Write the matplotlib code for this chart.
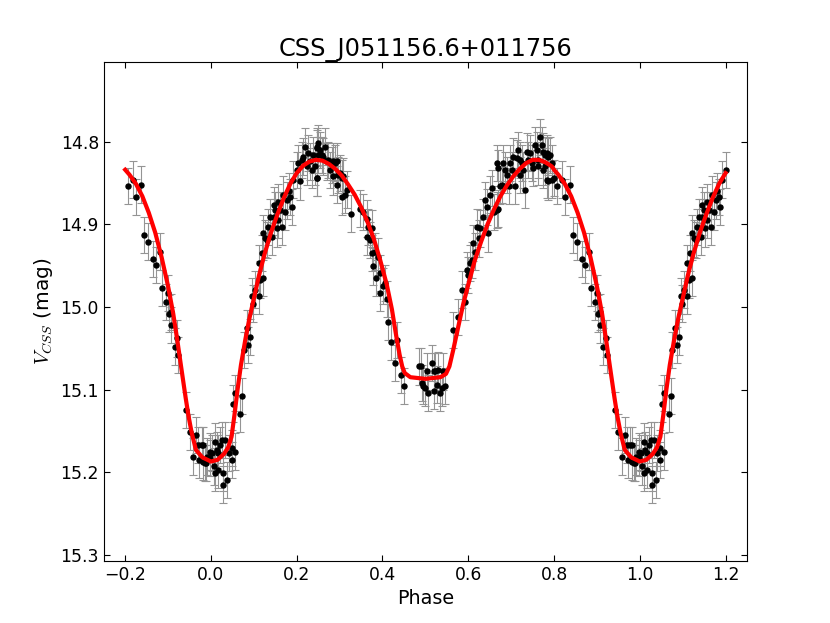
import numpy as np
import matplotlib
matplotlib.use('Agg')
import matplotlib.pyplot as plt

# Points de la courbe de lumiere, phase 0..1
phase = [
    0.002, 0.006, 0.009, 0.009, 0.013, 0.017, 0.017, 0.021, 0.025, 0.029,
    0.029, 0.033, 0.037, 0.041, 0.048, 0.048, 0.056, 0.052, 0.056, 0.068,
    0.072, 0.076, 0.083, 0.087, 0.091, 0.095, 0.099, 0.103, 0.111, 0.111,
    0.114, 0.118, 0.122, 0.122, 0.126, 0.130, 0.134, 0.138, 0.142, 0.146,
    0.146, 0.149, 0.153, 0.157, 0.157, 0.161, 0.165, 0.169, 0.173, 0.177,
    0.181, 0.188, 0.184, 0.192, 0.200, 0.208, 0.204, 0.212, 0.215, 0.219,
    0.223, 0.227, 0.231, 0.235, 0.239, 0.243, 0.247, 0.247, 0.250,
    0.247, 0.247, 0.250, 0.254, 0.258, 0.262, 0.266, 0.270, 0.274, 0.278,
    0.282, 0.285, 0.285, 0.289, 0.293, 0.293, 0.297, 0.301, 0.305, 0.305,
    0.309, 0.313, 0.317, 0.327, 0.348, 0.355, 0.363, 0.367, 0.375, 0.363,
    0.371, 0.375, 0.383, 0.390, 0.379, 0.386, 0.394, 0.406, 0.394, 0.402,
    0.410, 0.414, 0.421, 0.433, 0.429, 0.443, 0.449, 0.484, 0.490, 0.491,
    0.495, 0.499, 0.503, 0.507, 0.515, 0.519, 0.519,
    0.523, 0.526, 0.530, 0.534, 0.538, 0.542, 0.546, 0.565, 0.577, 0.585,
    0.592, 0.596, 0.600, 0.604, 0.608, 0.612, 0.616, 0.620, 0.624, 0.627,
    0.635, 0.639, 0.643, 0.647, 0.651, 0.655, 0.659, 0.666, 0.670, 0.666,
    0.670, 0.674, 0.678, 0.682, 0.686, 0.690, 0.694, 0.697, 0.701, 0.705,
    0.709, 0.713, 0.717, 0.721, 0.725, 0.721, 0.728, 0.732, 0.736, 0.740,
    0.744, 0.748, 0.752, 0.756, 0.760, 0.763, 0.763,
    0.767, 0.771, 0.775, 0.779, 0.783, 0.787, 0.791, 0.795, 0.775, 0.779,
    0.783, 0.787, 0.795, 0.799, 0.806, 0.818, 0.826, 0.837, 0.844, 0.854,
    0.865, 0.872, 0.882, 0.886, 0.896, 0.900, 0.903, 0.907, 0.907, 0.915,
    0.921, 0.923, 0.942, 0.950, 0.958, 0.966, 0.970, 0.973, 0.981, 0.981,
    0.989, 0.997, 0.978, 0.986, 0.990, 0.998,
]
mag = [
    15.177, 15.193, 15.201, 15.163, 15.173, 15.177, 15.197, 15.167, 15.161, 15.201,
    15.215, 15.161, 15.209, 15.177, 15.185, 15.171, 15.175, 15.117, 15.104, 15.129,
    15.108, 15.052, 15.026, 15.046, 15.036, 14.987, 14.996, 14.979, 14.987, 14.947,
    14.967, 14.935, 14.965, 14.911, 14.917, 14.919, 14.903, 14.891, 14.915, 14.891,
    14.877, 14.883, 14.905, 14.873, 14.895, 14.883, 14.903, 14.864, 14.885, 14.871,
    14.860, 14.879, 14.867, 14.846, 14.834, 14.848, 14.826, 14.822, 14.818, 14.806,
    14.830, 14.814, 14.824, 14.834, 14.816, 14.830, 14.844, 14.806, 14.816,
    14.808, 14.844, 14.802, 14.810, 14.816, 14.818, 14.806, 14.824, 14.822, 14.834,
    14.828, 14.824, 14.842, 14.826, 14.824, 14.852, 14.840, 14.838, 14.844, 14.867,
    14.842, 14.864, 14.858, 14.887, 14.881, 14.885, 14.893, 14.903, 14.905, 14.915,
    14.919, 14.935, 14.933, 14.939, 14.951, 14.965, 14.959, 14.971, 14.983, 14.975,
    14.990, 15.018, 15.042, 15.040, 15.068, 15.082, 15.096, 15.072, 15.072, 15.092,
    15.096, 15.098, 15.078, 15.104, 15.068, 15.102, 15.078,
    15.078, 15.094, 15.076, 15.104, 15.098, 15.078, 15.096, 15.028, 15.012, 14.979,
    14.994, 14.955, 14.961, 14.947, 14.943, 14.923, 14.933, 14.903, 14.917, 14.905,
    14.891, 14.871, 14.879, 14.911, 14.864, 14.856, 14.885, 14.883, 14.881, 14.826,
    14.832, 14.854, 14.852, 14.826, 14.834, 14.840, 14.854, 14.826, 14.834, 14.818,
    14.854, 14.820, 14.810, 14.822, 14.826, 14.840, 14.834, 14.858, 14.812, 14.822,
    14.814, 14.826, 14.832, 14.804, 14.810, 14.822, 14.830,
    14.794, 14.804, 14.812, 14.816, 14.814, 14.818, 14.816, 14.826, 14.834, 14.830,
    14.846, 14.848, 14.846, 14.844, 14.854, 14.846, 14.867, 14.852, 14.913, 14.921,
    14.942, 14.949, 14.933, 14.977, 14.994, 14.983, 15.008, 15.006, 15.022, 15.048,
    15.038, 15.058, 15.125, 15.151, 15.181, 15.155, 15.167, 15.185, 15.167, 15.187,
    15.189, 15.183, 15.167, 15.189, 15.181, 15.175,
]
erreur = 0.022

# Modele ajuste (courbe rouge), phase 0..1
phase_modele = [
    0.000, 0.015, 0.030, 0.040, 0.048, 0.055, 0.062, 0.070, 0.080, 0.090,
    0.100, 0.112, 0.125, 0.140, 0.155, 0.170, 0.185, 0.200, 0.215, 0.230,
    0.245, 0.260, 0.275, 0.290, 0.305, 0.320, 0.335, 0.350, 0.365, 0.380,
    0.395, 0.410, 0.422, 0.432, 0.440, 0.446, 0.452, 0.465, 0.500, 0.535,
    0.548, 0.556, 0.565, 0.575, 0.588, 0.600, 0.615, 0.630, 0.645, 0.660,
    0.675, 0.690, 0.705, 0.720, 0.735, 0.750, 0.765, 0.780, 0.795, 0.800,
    0.810, 0.825, 0.840, 0.855, 0.870, 0.885, 0.900, 0.912, 0.922, 0.932,
    0.941, 0.948, 0.955, 0.965, 0.980, 1.000,
]
mag_modele = [
    15.187, 15.185, 15.178, 15.170, 15.157, 15.130, 15.100, 15.070, 15.040, 15.013,
    14.990, 14.962, 14.936, 14.910, 14.888, 14.868, 14.851, 14.838, 14.829, 14.824,
    14.822, 14.823, 14.827, 14.833, 14.841, 14.852, 14.864, 14.879, 14.897, 14.918,
    14.944, 14.973, 15.003, 15.035, 15.058, 15.072, 15.080, 15.085, 15.087, 15.085,
    15.081, 15.072, 15.052, 15.028, 14.997, 14.973, 14.944, 14.921, 14.900, 14.882,
    14.866, 14.853, 14.842, 14.833, 14.826, 14.822, 14.822, 14.825, 14.830, 14.834,
    14.840, 14.851, 14.866, 14.886, 14.910, 14.940, 14.975, 15.008, 15.042, 15.078,
    15.110, 15.133, 15.152, 15.173, 15.182, 15.187,
]

# On replie en phase pour couvrir -0.2 .. 1.2
p = np.array(phase)
m = np.array(mag)
px = np.concatenate([p[p >= 0.8] - 1, p, p[p <= 0.2] + 1])
my = np.concatenate([m[p >= 0.8], m, m[p <= 0.2]])

pm = np.array(phase_modele)
mm = np.array(mag_modele)
cx = np.concatenate([pm[pm >= 0.8][:-1] - 1, pm, pm[pm <= 0.2][1:] + 1])
cy = np.concatenate([mm[pm >= 0.8][:-1], mm, mm[pm <= 0.2][1:]])

plt.rcParams['mathtext.fontset'] = 'cm'
plt.rcParams['font.size'] = 12.4
plt.rcParams['xtick.direction'] = 'in'
plt.rcParams['ytick.direction'] = 'in'
plt.rcParams['xtick.top'] = True
plt.rcParams['ytick.right'] = True
plt.rcParams['xtick.major.size'] = 4
plt.rcParams['ytick.major.size'] = 4

fig = plt.figure(figsize=(8.3, 6.23), dpi=100)
fig.subplots_adjust(left=0.125, right=0.9, bottom=0.1, top=0.9)
ax = fig.add_subplot(111)

ax.errorbar(px, my, yerr=erreur, fmt='o', color='black', ms=3.6,
            ecolor='0.58', elinewidth=0.8, capsize=3, capthick=0.8, zorder=2)
ax.plot(cx, cy, color='red', lw=3, zorder=3)

ax.set_xlim(-0.25, 1.25)
ax.set_ylim(15.307, 14.704)
ax.set_xticks([-0.2, 0.0, 0.2, 0.4, 0.6, 0.8, 1.0, 1.2])
ax.set_yticks([14.8, 14.9, 15.0, 15.1, 15.2, 15.3])
ax.set_title('CSS_J051156.6+011756', fontsize=17.3, pad=4)
ax.set_xlabel('Phase', fontsize=13.8)
ax.set_ylabel('$V_{CSS}$ (mag)', fontsize=14.5)

fig.savefig('out.png', dpi=100, facecolor='white')
